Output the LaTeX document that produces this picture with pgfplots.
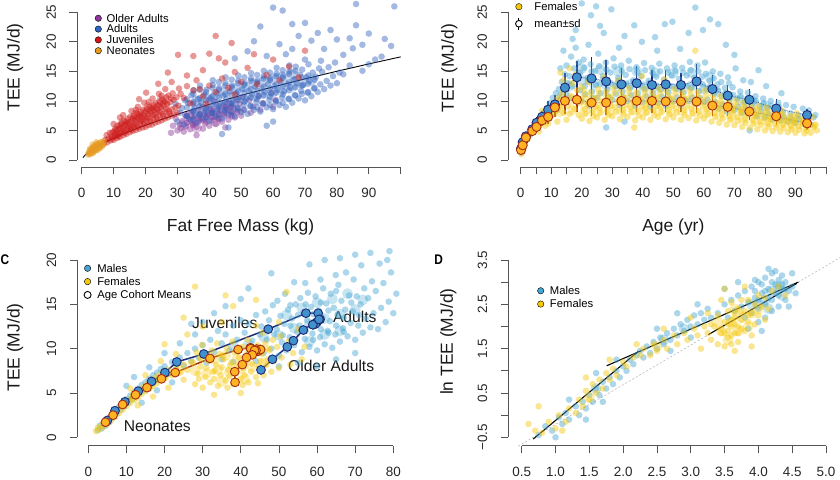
\documentclass[border=0pt]{standalone}
\usepackage{pgfplots}
\pgfplotsset{compat=1.18}
\usepackage{fontspec}
\setmainfont{Liberation Sans}
\definecolor{cPur}{RGB}{140,55,155}
\definecolor{cBlu}{RGB}{50,100,190}
\definecolor{cRed}{RGB}{205,25,25}
\definecolor{cOra}{RGB}{230,155,35}
\definecolor{mBlu}{RGB}{70,165,210}
\definecolor{fYel}{RGB}{245,200,10}
\definecolor{mFill}{RGB}{65,145,205}
\definecolor{fFill}{RGB}{255,180,35}
\definecolor{navy}{RGB}{30,40,115}
\definecolor{dred}{RGB}{165,45,20}
\definecolor{axgray}{RGB}{85,85,85}
\pgfplotsset{
 rax/.style={scale only axis, clip=false, anchor=south west,
  axis lines=left, axis line style={-, line width=0.8bp, draw=axgray},
  tick align=outside, major tick length=7.5bp,
  tick style={line width=0.8bp, draw=axgray},
  tick label style={font=\fontsize{13.5}{15}\selectfont, text=black!85},
  xticklabel style={anchor=north, yshift=-10.5bp},
  yticklabel style={xshift=-10bp, rotate=90, anchor=south},
  label style={font=\fontsize{17.5}{19}\selectfont, text=black!90},
  xlabel style={anchor=center}, ylabel style={anchor=center},
  legend image code/.code={\draw[##1] plot coordinates {(0bp,0bp)};},
  legend style={draw=none, fill=none, inner sep=0pt, outer sep=0pt, anchor=north west,
    font=\fontsize{11.3}{12}\selectfont,
    nodes={inner sep=0pt, text height=9.2bp, text depth=1.6bp}},
  legend cell align=left},
 cloud/.style={only marks, mark=*, mark size=3.3bp, mark options={draw=none, draw opacity=0, line width=0pt, fill=#1, fill opacity=0.45}, forget plot},
 core/.style={only marks, mark=*, mark size=5.5bp, mark options={draw=none, draw opacity=0, line width=0pt, fill=#1, fill opacity=0.3}, forget plot},
 ldot/.style={only marks, mark=*, mark size=3.2bp, mark options={draw=none, fill=#1}},
}
\begin{document}
\begin{tikzpicture}
%% ================= PANEL A =================
\begin{axis}[rax, at={(81.7bp,320bp)}, width=319bp, height=147.7bp,
  xmin=0, xmax=100, ymin=0, ymax=25,
  axis x line shift=7bp, axis y line shift=4.7bp,
  xtick={0,10,...,100}, xticklabels={0,10,20,30,40,50,60,70,80,90,{}},
  ytick={0,5,...,25}, yticklabels={0,5,10,15,20,25},
  xlabel={Fat Free Mass (kg)}, ylabel={TEE (MJ/d)},
  xlabel style={at={(axis description cs:0.498,-0.4536)}},
  ylabel style={at={(axis description cs:-0.2091,0.6263)}},
  legend style={at={(axis description cs:0.042,0.996)}, column sep=5.2bp},
]
\addlegendimage{ldot=cPur}\addlegendentry{Older Adults}
\addlegendimage{ldot=cBlu}\addlegendentry{Adults}
\addlegendimage{ldot=cRed}\addlegendentry{Juveniles}
\addlegendimage{ldot=cOra}\addlegendentry{Neonates}
% Older adults
\addplot[core=cPur] coordinates {(32,6.0)(35,6.6)(38,7.1)(41,7.6)(44,8.1)(47,8.6)(34,7.6)(40,8.2)(46,9.2)(36,5.5)(42,6.5)};
\addplot[cloud=cPur] coordinates {(28,4.6)(28.6,5.8)(30,5.0)(30.7,6.0)(29.5,7.0)(32,4.8)(32.7,5.7)(31.5,6.6)(32.4,7.6)(34,5.2)(34.7,6.1)(33.5,7.0)(34.4,8.0)(36,5.6)(36.7,6.5)(35.5,7.4)(36.4,8.4)(38,5.3)(38.7,6.2)(37.5,7.1)(38.4,8.0)(37.8,9.0)(40,5.8)(40.7,6.7)(39.5,7.6)(40.4,8.6)(42,6.1)(42.7,7.0)(41.5,7.9)(42.4,8.9)(41.8,9.9)(44,6.5)(44.7,7.4)(43.5,8.3)(44.4,9.3)(46,6.8)(46.7,7.7)(45.5,8.7)(46.4,9.7)(48,7.2)(48.7,8.1)(47.5,9.1)(48.4,10.1)(50,7.5)(50.7,8.5)(49.5,9.5)(50.4,10.6)(53,8.0)(53.7,9.0)(52.5,10.1)(56,8.5)(56.7,9.6)(55.5,10.8)(60,9.0)(60.7,10.2)(59.5,11.4)(36,4.2)(45,5.5)(40,10.2)(35,9.5)
(31,5.4)(33,6.3)(35,5.9)(37,6.8)(39,6.5)(41,7.3)(43,7.0)(45,7.9)(47,7.4)(49,8.4)(33,7.4)(37,7.7)(41,8.3)(45,9.0)(35,6.7)(39,7.2)(43,7.8)(47,8.2)};
% Adults
\addplot[core=cBlu] coordinates {(36,8.0)(36,10.0)(39,8.5)(39,10.5)(42,9.0)(42,11.0)(45,9.4)(45,11.5)(48,9.9)(48,12.0)(51,10.3)(51,12.4)(54,10.8)(54,12.9)(57,11.2)(57,13.3)(60,11.6)(60,13.7)(63,12.0)(63,14.1)(66,12.5)(66,14.5)(69,13.0)(72,13.5)};
\addplot[cloud=cBlu] coordinates {(30,6.5)(30.8,8.0)(29.4,9.5)
(32,6.0)(32.8,7.4)(31.4,8.8)(32.4,10.1)
(34,6.8)(34.8,8.2)(33.4,9.6)(34.4,11.0)
(36,6.3)(36.8,7.6)(35.4,8.9)(36.4,10.3)(35.1,11.8)
(38,7.0)(38.8,8.3)(37.4,9.7)(38.4,11.1)(37.1,12.6)
(40,6.6)(40.8,7.9)(39.4,9.2)(40.4,10.5)(39.1,11.9)(41.1,13.5)
(42,7.3)(42.8,8.6)(41.4,9.9)(42.4,11.3)(41.1,12.7)
(44,7.0)(44.8,8.3)(43.4,9.6)(44.4,10.9)(43.1,12.2)(45.1,14.0)
(46,7.7)(46.8,9.0)(45.4,10.3)(46.4,11.6)(45.1,13.0)
(48,7.4)(48.8,8.7)(47.4,10.0)(48.4,11.3)(47.1,12.6)(49.1,14.3)
(50,8.1)(50.8,9.4)(49.4,10.7)(50.4,12.0)(49.1,13.4)
(52,7.8)(52.8,9.1)(51.4,10.4)(52.4,11.7)(51.1,13.0)(53.1,14.7)
(54,8.5)(54.8,9.8)(53.4,11.1)(54.4,12.4)(53.1,13.8)
(56,8.2)(56.8,9.5)(55.4,10.8)(56.4,12.1)(55.1,13.4)(57.1,15.1)
(58,8.9)(58.8,10.2)(57.4,11.5)(58.4,12.8)(57.1,14.2)
(60,8.6)(60.8,9.9)(59.4,11.2)(60.4,12.5)(59.1,13.8)(61.1,15.6)
(62,9.3)(62.8,10.6)(61.4,11.9)(62.4,13.2)(61.1,14.6)
(64,9.0)(64.8,10.3)(63.4,11.6)(64.4,12.9)(63.1,14.2)(65.1,16.0)
(66,9.7)(66.8,11.0)(65.4,12.3)(66.4,13.6)(65.1,15.0)
(68,10.4)(68.8,11.7)(67.4,13.0)(68.4,14.4)(67.1,15.8)
(70,10.1)(70.8,11.4)(69.4,12.7)(70.4,14.0)(69.1,15.3)
(72,10.8)(72.8,12.1)(71.4,13.4)(72.4,14.8)(71.1,16.2)
(74,11.5)(74.8,12.8)(73.4,14.1)(74.4,15.5)
(76,12.0)(76.8,13.4)(75.4,14.9)
(78,12.6)(78.8,14.2)(77.4,15.7)
(80,13.0)(80.8,14.8)(79.4,16.5)
(82,17.8)(84,20.6)(86,22.8)(86,26.4)(88,19.5)(90,21.4)(92,17.0)(95,20.5)(97,19.3)(98,26.0)(60,25.8)(63,25.3)(66,23.0)(70,23.2)(72,20.2)(74,21.5)(66,18.8)(56,22.6)(62,19.6)(58,17.6)(52,18.4)(48,17.2)(46,5.5)(44,4.4)(60,6.5)(76,18.8)(78,22.0)(80,20.4)(84,16.0)(88,15.1)(90,16.2)(94,17.5)(54,20.1)(68,21.0)(75,16.8)(82,14.5)(85,18.9)(64,17.9)(70,17.0)(58,5.8)
(33,7.5)(33,8.9)(33,10.3)(35,7.0)(35,8.4)(35,9.8)(35,11.2)(37,7.8)(37,9.1)(37,10.5)(37,11.9)(39,7.3)(39,8.7)(39,10.1)(39,11.5)(41,8.0)(41,9.4)(41,10.8)(41,12.2)(43,7.7)(43,9.1)(43,10.5)(43,11.9)(43,13.2)(45,8.4)(45,9.8)(45,11.2)(45,12.6)(47,8.1)(47,9.5)(47,10.9)(47,12.3)(47,13.6)(49,8.8)(49,10.2)(49,11.6)(49,13.0)(51,8.5)(51,9.9)(51,11.3)(51,12.7)(51,14.0)(53,9.2)(53,10.6)(53,12.0)(53,13.4)(55,8.9)(55,10.3)(55,11.7)(55,13.1)(55,14.4)(57,9.6)(57,11.0)(57,12.4)(57,13.8)(59,9.3)(59,10.7)(59,12.1)(59,13.5)(59,14.8)(61,10.0)(61,11.4)(61,12.8)(61,14.2)(63,9.7)(63,11.1)(63,12.5)(63,13.9)(63,15.2)(65,10.4)(65,11.8)(65,13.2)(65,14.6)(67,10.9)(67,12.3)(67,13.7)(67,15.1)(69,11.2)(69,12.6)(69,14.0)(71,11.5)(71,12.9)(71,14.3)(73,12.2)(73,13.6)};
% Juveniles
\addplot[core=cRed] coordinates {(10,4.3)(12,5.0)(14,5.7)(16,6.4)(18,7.0)(20,7.6)(22,8.2)(24,8.8)(26,9.3)(13,6.3)(17,7.6)(21,8.9)(25,10.0)(11,4.8)(15,6.0)(19,7.2)(23,8.4)};
\addplot[cloud=cRed] coordinates {(7,2.8)(7.4,3.4)(8,3.0)(8.3,3.6)(7.8,4.2)(9,3.3)(9.4,3.9)(8.8,4.6)(10,3.4)(10.3,4.0)(9.7,4.7)(10.5,5.3)(11,3.7)(11.4,4.3)(10.8,5.0)(11.2,5.8)(12,3.9)(12.3,4.6)(11.7,5.3)(12.5,6.2)(13,4.2)(13.4,4.9)(12.8,5.6)(13.2,6.6)(14,4.4)(14.3,5.1)(13.7,5.9)(14.5,7.0)(15,4.7)(15.4,5.4)(14.8,6.2)(15.2,7.3)(15.6,8.3)(16,4.9)(16.3,5.6)(15.8,6.5)(16.5,7.5)(17,5.1)(17.4,5.9)(16.8,6.8)(17.2,7.9)(17.6,9.0)(18,5.3)(18.3,6.2)(17.7,7.0)(18.5,8.2)(19,5.5)(19.4,6.4)(18.8,7.3)(19.2,8.5)(19.6,9.7)(20,5.6)(20.3,6.6)(19.7,7.5)(20.5,8.7)(20.2,11.4)(21,5.9)(21.4,6.9)(20.8,7.8)(21.2,9.0)(22,6.0)(22.3,7.1)(21.7,8.1)(22.5,9.3)(22.2,10.4)(23,6.3)(23.4,7.3)(22.8,8.4)(23.2,9.6)(24,6.5)(24.3,7.6)(23.7,8.6)(24.5,9.9)(24.2,11.2)(25,6.7)(25.4,7.8)(24.8,8.9)(25.2,10.2)(26,7.0)(26.3,8.1)(25.7,9.3)(26.5,10.6)(26.2,12.0)(27,7.2)(27.4,8.3)(26.8,9.5)(27.2,10.9)(28,7.5)(28.3,8.6)(27.7,9.8)(28.5,11.3)(28.2,13.2)(29,7.7)(29.4,8.9)(28.8,10.2)(30,8.0)(30.3,9.2)(29.7,10.6)(30.5,12.1)(30.2,17.8)
(32,10.5)(33,12.5)(34,9.6)(35,11.8)(36,13.5)(38,10.8)(38,15.2)(40,12.6)(40,18.0)(42,11.5)(42,21.0)(44,13.8)(45,16.5)(46,12.2)(48,14.9)(48,11.1)(50,13.2)(52,15.6)(55,12.8)(58,14.4)(60,17.0)(62,13.5)(65,15.8)(68,14.0)(70,18.5)(35,17.6)(27,14.8)(24,12.9)(18,10.3)(12,7.2)(10,6.1)(31,11.2)(33,14.3)(37,12.0)(39,9.5)(43,17.2)(47,19.8)(54,17.9)
(9.5,3.6)(10.5,4.4)(11.5,4.0)(12.5,4.9)(13.5,4.6)(14.5,5.5)(15.5,5.1)(16.5,6.0)(17.5,5.6)(18.5,6.6)(19.5,6.1)(20.5,7.1)(21.5,6.5)(22.5,7.6)(23.5,7.0)(24.5,8.1)(25.5,7.4)(26.5,8.6)(27.5,7.9)(12,5.9)(14,6.5)(16,7.1)(18,7.7)(20,8.2)(22,8.8)(24,9.3)(26,9.9)(28,10.4)(13,7.6)(17,8.5)(21,9.8)(25,10.9)};
% Neonates
\addplot[core=cOra] coordinates {(3,1.4)(4,1.9)(5,2.3)(6,2.6)};
\addplot[cloud=cOra] coordinates {(2.0,0.9)(2.2,1.2)(2.4,1.0)(2.5,1.4)(2.7,1.1)(2.8,1.6)(3.0,1.3)(3.0,1.8)(3.2,1.5)(3.3,2.0)(3.5,1.2)(3.5,1.7)(3.7,2.2)(3.8,1.5)(4.0,1.9)(4.0,2.4)(4.2,1.6)(4.3,2.1)(4.5,2.6)(4.5,1.8)(4.7,2.3)(4.8,2.0)(5.0,2.7)(5.0,1.7)(5.2,2.4)(5.3,2.1)(5.5,2.8)(5.6,2.3)(5.8,2.0)(6.0,2.6)(6.0,3.0)(6.3,2.4)(6.5,2.9)(6.8,2.6)(7.0,3.2)(3.4,2.6)(4.6,3.0)(2.6,1.9)};
% fitted curve
\addplot[black, line width=0.9bp, forget plot] coordinates {(0.4,0.42)(1,0.78)(2,1.25)(3,1.64)(4,1.99)(6,2.61)(8,3.17)(10,3.69)(15,4.85)(20,5.89)(25,6.85)(30,7.75)(40,9.41)(50,10.94)(60,12.37)(70,13.73)(80,15.02)(90,16.26)(100,17.46)};
\end{axis}
%% ================= PANEL B =================
\begin{axis}[rax, at={(520.7bp,320bp)}, width=305.3bp, height=147.7bp,
  xmin=0, xmax=100, ymin=0, ymax=25,
  axis x line shift=7bp, axis y line shift=12.7bp,
  xtick={0,5,...,100}, xticklabels={0,,10,,20,,30,,40,,50,,60,,70,,80,,90,,},
  ytick={0,5,...,25}, yticklabels={0,5,10,15,20,25},
  xlabel={Age (yr)}, ylabel={TEE (MJ/d)},
  xlabel style={at={(axis description cs:0.5,-0.4536)}},
  ylabel style={at={(axis description cs:-0.2339,0.6229)}},
  legend style={at={(axis description cs:-0.0183,1.0745)}, column sep=11.8bp, row sep=5.2bp},
]
\addlegendimage{ldot=fYel}\addlegendentry{Females}
\addlegendimage{legend image code/.code={\draw[black, line width=0.9bp] (0bp,-6bp)--(0bp,6bp); \draw[black, fill=white, line width=0.9bp] (0bp,0bp) circle (3.3bp);}}\addlegendentry{mean±sd}
% Males
\addplot[core=mBlu] coordinates {(16,12.5)(20,13.5)(24,13.0)(28,12.8)(32,12.6)(36,12.8)(40,12.5)(44,12.4)(48,12.4)(52,12.3)(56,12.6)(60,12.0)(64,11.5)(68,10.8)(72,10.2)(76,9.8)(80,9.2)(20,15.5)(26,15.3)(32,15.0)(38,15.0)(44,14.8)(50,14.7)(56,14.8)(62,14.0)};
\addplot[cloud=mBlu] coordinates {(0.2,1.2)(0.3,1.8)(0.5,2.3)(0.7,1.5)(0.9,2.8)(1.2,3.0)(1.5,3.8)(2,3.5)(2.3,4.5)(3,4.2)(3.5,5.0)(4,4.8)(4.5,5.8)(5,5.5)(5.5,6.6)(6,6.2)(6.5,7.3)(7,6.8)(7.5,8.0)(8,7.5)(8.5,8.8)(9,8.2)(9.5,9.6)(10,9.0)(10.5,10.5)(9,7.0)(10,7.6)
(11,9.5)(11.5,11.3)(12,10.2)(12.5,12.0)(13,11.0)(13.5,13.2)(14,12.0)(14.5,14.5)(15,11.3)(15,16.0)(15.5,13.0)(16,14.2)(16.5,17.5)(17,12.5)(17.5,15.5)(18,13.8)(18,19.0)(19,16.5)(19.5,11.8)(14,18.5)(13,15.5)(12,8.5)(16,10.5)(17,20.5)(18,22.0)
(20,10.0)(21,12.5)(19.5,14.8)(20.6,17.0)(22.5,9.2)(23.4,11.6)(21.9,13.9)(22.9,16.2)(22.2,19.5)(25,10.5)(25.9,12.8)(24.4,15.1)(25.4,18.0)(24.7,26.0)(27.5,9.6)(28.4,11.9)(26.9,14.2)(27.9,16.5)(27.2,21.5)(30,10.2)(30.9,12.5)(29.4,14.8)(30.4,17.2)(29.7,25.5)(32.5,9.3)(33.4,11.6)(31.9,13.9)(32.9,16.0)(32.2,19.0)(35,10.0)(35.9,12.2)(34.4,14.4)(35.4,16.8)(37.5,9.1)(38.4,11.3)(36.9,13.5)(37.9,15.7)(37.2,22.8)(40,9.8)(40.9,12.0)(39.4,14.2)(40.4,16.4)(39.7,20.0)(42.5,9.0)(43.4,11.2)(41.9,13.4)(42.9,15.6)(45,9.7)(45.9,11.9)(44.4,14.1)(45.4,16.3)(44.7,18.5)(47.5,9.2)(48.4,11.4)(46.9,13.6)(47.9,15.5)(47.2,23.0)(50,9.9)(50.9,12.1)(49.4,14.3)(50.4,16.0)(49.7,23.4)(52.5,9.3)(53.4,11.5)(51.9,13.7)(52.9,15.6)(52.2,18.8)(55,10.0)(55.9,12.2)(54.4,14.3)(55.4,16.6)(57.5,9.5)(58.4,11.7)(56.9,13.9)(57.9,16.0)(57.2,25.8)(60,9.8)(60.9,12.0)(59.4,14.1)(60.4,16.5)(59.7,22.0)(62.5,9.2)(63.4,11.3)(61.9,13.4)(62.9,15.0)(65,8.7)(65.9,10.8)(64.4,12.8)(65.4,14.6)(64.7,23.0)(67.5,8.2)(68.4,10.2)(66.9,12.2)(67.9,14.0)(67.2,19.5)(70,8.5)(70.9,10.4)(69.4,12.3)(70.4,15.5)(72.5,8.0)(73.4,9.8)(71.9,11.6)(72.9,13.5)(75,7.8)(75.9,9.6)(74.4,11.4)(75.4,13.2)(77.5,7.4)(78.4,9.1)(76.9,10.8)(77.9,15.2)(80,7.2)(80.9,8.8)(79.4,10.4)(80.4,12.5)(82.5,6.9)(83.4,8.4)(81.9,10.0)(85,6.7)(85.9,8.2)(84.4,9.7)(85.4,11.3)(87.5,6.5)(88.4,7.9)(86.9,9.3)(90,6.3)(90.9,7.6)(89.4,9.0)(93,6.2)(93.9,7.4)(92.4,8.7)(95,6.0)(95.9,7.2)(94.4,8.4)
(20,26.5)(23,24.5)(26,22.7)(34,21.0)(44,20.8)(55,21.5)(62,23.8)(70,17.8)(28,5.5)(34,6.5)(75,5.0)
(21.2,11.1)(22,13.3)(20.8,15.6)(23.7,10.5)(24.6,12.7)(23.2,15.0)(26.2,11.3)(27,13.6)(25.7,15.9)(28.7,10.8)(29.5,13.0)(28.1,15.3)(31.2,11.2)(32,13.4)(30.7,15.8)(33.7,10.6)(34.6,12.9)(33.1,15.1)(36.2,11.0)(37,13.2)(35.6,15.4)(38.7,10.4)(39.6,12.6)(38.2,14.9)(41.2,10.8)(42,13.0)(40.7,15.2)(43.7,10.3)(44.6,12.5)(43.2,14.7)(46.2,10.7)(47,12.9)(45.7,15.0)(48.7,10.3)(49.6,12.5)(48.2,14.8)(51.2,10.6)(52,12.8)(50.7,15.1)(53.7,10.2)(54.6,12.5)(53.2,14.8)(56.2,10.6)(57,12.9)(55.7,15.2)(58.7,10.5)(59.6,12.8)(58.2,15.0)(61.2,10.2)(62,12.4)(60.7,14.6)(63.7,9.8)(64.6,11.8)(63.2,13.8)(66.2,9.4)(67,11.3)(65.7,13.2)(68.7,9.2)(69.6,11.0)(68.2,13.0)(71.2,9.0)(72,10.8)(73.7,8.9)(74.6,10.5)(76.2,8.5)(77,10.0)(78.7,8.2)(79.6,9.6)(81.2,7.8)(82,9.2)(83.7,7.6)(84.6,9.0)(86.2,7.3)(88.7,7.0)(91.2,6.9)(94,6.8)(96.5,7.6)};
% Females
\addplot[core=fYel] coordinates {(13,8.2)(13,9.8)(17,8.5)(17,10.3)(21,8.3)(21,10.1)(25,8.2)(25,10.0)(29,8.3)(29,10.1)(33,8.4)(33,10.2)(37,8.4)(37,10.2)(41,8.4)(41,10.2)(45,8.3)(45,10.1)(49,8.3)(49,10.1)(53,8.3)(53,10.1)(57,8.2)(57,10.0)(61,7.9)(61,9.6)(65,7.6)(65,9.3)(69,7.3)(69,8.9)(73,7.0)(73,8.5)(77,6.7)(77,8.1)(81,6.4)(81,7.7)(85,6.1)(85,7.3)(89,5.9)(89,7.0)(93,5.8)(93,6.8)};
\addplot[cloud=fYel] coordinates {(0.2,1.0)(0.3,1.6)(0.5,2.0)(0.8,2.6)(1,2.2)(1.3,3.2)(1.8,3.8)(2.2,3.5)(2.8,4.3)(3.2,4.8)(3.8,4.6)(4.2,5.4)(4.8,5.2)(5.2,6.0)(5.8,5.8)(6.2,6.6)(6.8,6.4)(7.2,7.3)(7.8,7.0)(8.2,7.8)(8.8,7.4)(9.2,8.5)(9.8,8.0)(10.2,9.2)(10.8,8.6)(6,4.8)(8,5.8)(9,6.2)(7,8.3)
(11,7.8)(11.5,9.5)(12,8.4)(12.5,10.5)(13,9.0)(13.5,11.3)(14,8.0)(14.5,10.0)(15,12.0)(15.5,9.2)(16,7.8)(16.5,10.8)(17,13.0)(17.5,8.6)(18,10.2)(18.5,11.8)(19,7.6)(19.5,9.6)(20,12.4)(14,13.5)(18,14.5)(16,15.5)(12,6.5)(15,6.8)(13,14.8)
(20,7.0)(21,8.6)(19.5,10.2)(20.6,11.8)(22.5,6.6)(23.4,8.2)(21.9,9.8)(22.9,11.4)(22.2,13.2)(25,7.2)(25.9,8.8)(24.4,10.4)(25.4,12.0)(27.5,6.8)(28.4,8.4)(26.9,10.0)(27.9,11.6)(27.2,14.0)(30,7.4)(30.9,9.0)(29.4,10.6)(30.4,12.2)(32.5,6.9)(33.4,8.5)(31.9,10.1)(32.9,11.7)(32.2,13.5)(35,7.3)(35.9,8.9)(34.4,10.5)(35.4,12.1)(37.5,6.7)(38.4,8.3)(36.9,9.9)(37.9,11.5)(37.2,5.5)(40,7.2)(40.9,8.8)(39.4,10.4)(40.4,12.0)(39.7,14.2)(42.5,6.8)(43.4,8.4)(41.9,10.0)(42.9,11.6)(45,7.3)(45.9,8.9)(44.4,10.5)(45.4,12.1)(47.5,6.9)(48.4,8.5)(46.9,10.1)(47.9,11.7)(47.2,13.6)(50,7.2)(50.9,8.8)(49.4,10.4)(50.4,12.0)(52.5,6.8)(53.4,8.4)(51.9,10.0)(52.9,11.6)(55,7.1)(55.9,8.7)(54.4,10.3)(55.4,11.9)(57.5,6.7)(58.4,8.3)(56.9,9.9)(57.9,11.5)(57.2,18.5)(60,7.0)(60.9,8.6)(59.4,10.2)(60.4,11.8)(62.5,6.5)(63.4,8.0)(61.9,9.5)(62.9,11.0)(65,6.3)(65.9,7.8)(64.4,9.3)(65.4,10.8)(67.5,6.0)(68.4,7.5)(66.9,9.0)(67.9,10.5)(70,5.9)(70.9,7.3)(69.4,8.7)(70.4,10.1)(72.5,5.6)(73.4,7.0)(71.9,8.4)(72.9,9.8)(75,5.4)(75.9,6.8)(74.4,8.2)(75.4,9.6)(77.5,5.2)(78.4,6.5)(76.9,7.8)(77.9,9.1)(80,5.0)(80.9,6.3)(79.4,7.6)(80.4,8.9)(82.5,4.9)(83.4,6.1)(81.9,7.3)(82.9,8.6)(85,4.8)(85.9,6.0)(84.4,7.2)(85.4,8.4)(87.5,4.7)(88.4,5.8)(86.9,6.9)(90,4.6)(90.9,5.7)(89.4,6.8)(90.4,7.9)(93,4.5)(93.9,5.6)(92.4,6.7)(95,4.6)(95.9,5.5)(94.4,6.4)(95.4,7.3)(97,5.0)(96.6,6.0)
(21.2,7.8)(22,9.4)(20.8,11.0)(23.7,7.4)(24.6,9.0)(23.2,10.6)(26.2,8.0)(27,9.6)(25.7,11.2)(28.7,7.6)(29.5,9.2)(28.1,10.8)(31.2,8.2)(32,9.8)(30.7,11.4)(33.7,7.7)(34.6,9.3)(33.1,10.9)(36.2,8.1)(37,9.7)(35.6,11.3)(38.7,7.5)(39.6,9.1)(38.2,10.7)(41.2,8.0)(42,9.6)(40.7,11.2)(43.7,7.6)(44.6,9.2)(43.2,10.8)(46.2,8.1)(47,9.7)(45.7,11.3)(48.7,7.7)(49.6,9.3)(48.2,10.9)(51.2,8.0)(52,9.6)(50.7,11.2)(53.7,7.6)(54.6,9.2)(53.2,10.8)(56.2,7.9)(57,9.5)(55.7,11.1)(58.7,7.5)(59.6,9.1)(58.2,10.7)(61.2,7.8)(62,9.4)(60.7,10.9)(63.7,7.3)(64.6,8.7)(63.2,10.2)(66.2,7.0)(67,8.5)(65.7,9.9)(68.7,6.8)(69.6,8.2)(68.2,9.7)(71.2,6.6)(72,8.0)(70.7,9.3)(73.7,6.3)(74.6,7.7)(73.2,9.0)(76.2,6.1)(77,7.4)(75.7,8.8)(78.7,5.9)(79.6,7.1)(78.2,8.4)(81.2,5.6)(82,6.8)(80.7,8.1)(83.7,5.5)(84.6,6.7)(83.2,7.9)(86.2,5.4)(87,6.5)(85.7,7.7)(88.7,5.2)(89.6,6.3)(88.2,7.4)(91.2,5.1)(92,6.2)(90.7,7.2)(93.7,5.0)(94.6,6.1)(96.2,5.8)};
% Male means +- sd
\addplot[forget plot, navy, densely dotted, line width=0.8bp, mark=*, mark size=4.6bp,
  mark options={solid, fill=mFill, draw=navy, line width=0.9bp},
  error bars/.cd, y dir=both, y explicit, error mark=none,
  error bar style={solid, line width=1.4bp, navy}]
  table[x=a, y=m, y error=s] {
a m s
0.1 1.9 0.4
0.65 3.0 0.5
1.7 4.0 0.6
3.8 5.2 0.8
5.2 6.3 0.9
7.0 7.3 1.0
9.0 8.5 1.5
11.2 9.4 1.6
14.5 12.25 2.5
18.4 14.0 2.7
23.2 13.8 3.6
28.0 13.3 3.7
33.0 12.8 2.8
38.0 13.0 2.9
43.0 12.7 2.5
47.5 12.8 2.5
52.5 12.7 2.1
57.6 13.3 3.0
62.8 12.0 2.4
67.8 10.9 1.8
74.9 10.2 1.8
83.7 8.7 1.7
93.8 7.6 1.1
};
% Female means +- sd
\addplot[forget plot, dred, densely dotted, line width=0.8bp, mark=*, mark size=4.6bp,
  mark options={solid, fill=fFill, draw=dred, line width=0.9bp},
  error bars/.cd, y dir=both, y explicit, error mark=none,
  error bar style={solid, line width=1.4bp, dred}]
  table[x=a, y=m, y error=s] {
a m s
0.1 1.7 0.3
0.65 2.5 0.4
1.7 3.8 0.5
3.8 4.9 0.6
5.2 5.6 0.7
7.0 6.7 0.9
9.0 7.3 1.2
11.2 8.9 1.7
14.5 10.0 2.2
18.4 10.2 2.0
23.2 9.7 2.3
28.0 9.7 2.0
33.0 10.0 2.0
38.0 10.0 1.8
43.0 10.0 2.0
47.5 9.9 1.8
52.5 9.9 1.8
57.6 9.9 1.9
62.8 9.2 1.7
67.8 9.0 1.6
74.9 8.2 1.5
83.7 7.4 1.4
93.8 6.2 1.2
};
\end{axis}
%% ================= PANEL C =================
\begin{axis}[rax, at={(88.3bp,42.7bp)}, width=305bp, height=177.3bp,
  xmin=0, xmax=80, ymin=0, ymax=20,
  axis x line shift=8.2bp, axis y line shift=11bp,
  xtick={0,10,...,80}, xticklabels={0,10,20,30,40,50,60,70,80},
  ytick={0,5,...,20}, yticklabels={0,5,10,15,20},
  ylabel={TEE (MJ/d)},
  ylabel style={at={(axis description cs:-0.2403,0.5065)}},
  legend style={at={(axis description cs:-0.0138,0.9836)}, column sep=6.2bp, row sep=2.5bp},
]
\addlegendimage{ldot=mBlu}\addlegendentry{Males}
\addlegendimage{ldot=fYel}\addlegendentry{Females}
\addlegendimage{only marks, mark=o, mark size=3.5bp, mark options={black, line width=0.9bp}}\addlegendentry{Age Cohort Means}
\addplot[core=mBlu] coordinates {(50,11.5)(54,12.3)(58,12.8)(62,13.4)(66,13.9)(70,14.4)(52,13.8)(56,14.6)(60,15.2)(64,15.6)(68,16.2)(58,10.8)(62,11.6)(66,12.0)(72,15.5)(46,11.3)(42,10.5)(38,10.3)};
\addplot[cloud=mBlu] coordinates {(2.5,0.8)(3,1.3)(3.5,1.0)(4,1.6)(4.5,1.3)(5,2.1)(5.5,1.7)(6,2.5)(6.5,2.2)(7,3.0)(7.5,2.7)(8,3.4)(8.5,3.1)(9,3.9)(9.5,3.5)(10,4.3)(10.5,3.9)(11,4.7)(11.5,4.3)(12,5.1)(12.5,4.6)(13,5.5)(13.5,5.0)(14,5.9)(14.5,5.3)(15,6.2)(15.5,5.6)(16,6.6)(16.5,6.0)(17,7.0)(17.5,6.3)(18,7.3)(18.5,6.6)(19,7.7)(19.5,6.9)(20,8.0)(21,7.3)(22,8.5)(23,7.7)(24,9.0)(25,8.1)(26,9.5)(27,8.6)(28,10.0)(29,9.0)(30,10.4)(12,6.8)(16,7.9)(20,9.5)(24,10.6)(28,11.6)(10,5.8)(14,3.9)(18,5.3)(22,6.2)
(31,8.4)(32,11.0)(33,9.6)(34,12.0)(35,8.8)(35,10.6)(36,11.6)(37,9.8)(38,12.6)(38,8.5)(39,11.0)(40,10.0)(40,13.2)(41,11.8)(42,9.4)(42,12.8)(43,10.9)(44,13.8)(44,8.6)(45,11.6)(33,14.0)(36,14.8)(40,15.6)(42,16.8)(30,13.0)(27,12.8)
(46,9.5)(46.8,11.0)(45.4,12.5)(46.4,14.2)(48,10.0)(48.8,11.6)(47.4,13.2)(48.4,14.9)(50,9.2)(50.8,10.7)(49.4,12.2)(50.4,13.7)(49.6,15.4)(52,9.8)(52.8,11.3)(51.4,12.8)(52.4,14.4)(51.6,16.2)(54,10.4)(54.8,11.9)(53.4,13.4)(54.4,15.0)(56,9.6)(56.8,11.1)(55.4,12.6)(56.4,14.1)(55.6,15.7)(56.9,17.4)(58,10.2)(58.8,11.7)(57.4,13.2)(58.4,14.7)(57.6,16.3)(60,9.8)(60.8,11.3)(59.4,12.8)(60.4,14.3)(59.6,15.9)(60.9,17.8)(62,10.5)(62.8,12.0)(61.4,13.5)(62.4,15.1)(61.6,16.8)(64,10.1)(64.8,11.6)(63.4,13.1)(64.4,14.6)(63.6,16.2)(64.9,18.3)(66,10.8)(66.8,12.3)(65.4,13.8)(66.4,15.4)(65.6,17.2)(68,11.4)(68.8,12.9)(67.4,14.4)(68.4,16.0)(67.6,18.6)(70,11.0)(70.8,12.6)(69.4,14.2)(70.4,15.9)(69.6,17.8)(72,11.8)(72.8,13.4)(71.4,15.0)(72.4,16.8)(71.6,19.4)(74,12.4)(74.8,14.0)(73.4,15.7)(74.4,17.6)(76,12.2)(76.8,14.6)(75.4,16.5)(76.4,19.6)(78,13.0)(78.8,15.3)(77.4,17.4)(78.4,20.0)(80,14.0)(80.8,16.2)(79.4,18.6)
(48,18.5)(54,17.5)(58,19.5)(62,20.0)(66,20.2)(70,20.6)(74,20.8)(79,21.0)(50,8.0)(55,8.4)(60,8.0)(65,8.8)(70,9.5)
(51,11.5)(53,12.6)(55,13.8)(57,12.0)(59,13.9)(61,12.2)(63,14.3)(65,12.6)(67,13.5)(69,15.2)(71,13.8)(53,14.9)(57,15.0)(61,15.2)(65,16.5)(59,11.0)(63,11.8)(67,11.9)};
\addplot[core=fYel] coordinates {(28,7.5)(31,7.2)(34,7.6)(37,7.3)(40,7.7)(43,7.9)(46,8.4)(30,9.0)(33,8.8)(36,9.2)(39,8.8)(42,9.3)(45,9.8)(35,6.3)(41,6.6)(24,7.6)(20,6.9)(16,5.8)(12,4.6)};
\addplot[cloud=fYel] coordinates {(2,0.7)(2.5,1.1)(3,0.9)(3.5,1.4)(4,1.2)(4.5,1.8)(5,1.5)(5.5,2.2)(6,1.9)(6.5,2.6)(7,2.3)(7.5,3.0)(8,2.7)(8.5,3.5)(9,3.1)(9.5,3.9)(10,3.5)(10.5,4.2)(11,3.9)(11.5,4.6)(12,4.2)(12.5,5.0)(13,4.5)(13.5,5.3)(14,4.9)(14.5,5.7)(15,5.2)(15.5,6.0)(16,5.5)(16.5,6.4)(17,5.8)(17.5,6.7)(18,6.1)(18.5,7.0)(19,6.4)(19.5,7.3)(20,6.7)(21,7.6)(22,7.0)(23,7.9)(24,7.3)(25,8.2)(26,7.6)(27,8.5)(11,5.5)(15,7.0)(19,8.6)(23,9.4)(13,3.6)(17,4.6)(21,5.6)(25,6.5)
(28,6.0)(28.7,7.2)(27.5,8.4)(28.4,9.6)(30,5.6)(30.7,6.8)(29.5,8.0)(30.4,9.2)(29.8,10.4)(32,6.2)(32.7,7.4)(31.5,8.6)(32.4,9.8)(34,5.8)(34.7,7.0)(33.5,8.2)(34.4,9.4)(33.8,10.6)(36,6.4)(36.7,7.6)(35.5,8.8)(36.4,10.0)(38,6.0)(38.7,7.2)(37.5,8.4)(38.4,9.6)(37.8,10.8)(40,6.6)(40.7,7.8)(39.5,9.0)(40.4,10.2)(42,6.2)(42.7,7.4)(41.5,8.6)(42.4,9.8)(41.8,11.0)(44,6.8)(44.7,8.0)(43.5,9.2)(44.4,10.4)(46,7.0)(46.7,8.2)(45.5,9.4)(46.4,10.6)(45.8,11.8)(48,7.4)(48.7,8.6)(47.5,9.8)(48.4,11.0)(50,7.8)(50.7,9.0)(49.5,10.2)(50.4,11.4)(53,8.2)(53.7,9.5)(52.5,10.8)(56,8.8)(56.7,10.2)
(29,6.6)(31,7.8)(33,6.6)(35,7.9)(37,6.9)(39,8.1)(41,7.0)(43,8.3)(45,7.6)(47,8.8)(29.2,8.9)(31.2,9.3)(33.2,7.5)(35.2,9.2)(37.2,8.1)(39.2,9.9)(41.2,8.2)(43.2,9.6)(45.2,8.6)(47.2,10.0)(36.5,5.6)(40.5,5.9)(44.5,6.1)
(30,12.5)(35,13.0)(38,14.8)(44,12.6)(26,11.6)(40,5.0)(33,4.8)(50,13.0)(55,12.2)(20,10.5)(25,13.5)(36,16.0)(44,15.5)(28,17.0)(52,16.4)};
% cohort means
\addplot[forget plot, navy, line width=1.5bp, mark=*, mark size=4.4bp,
  mark options={fill=mFill, draw=navy, line width=0.9bp}] coordinates {(5.0,1.9)(7.0,3.0)(9.6,4.0)(13.1,5.2)(16.6,6.3)(20.1,7.3)(23.2,8.5)(30.3,9.4)(47.2,12.2)(57.1,14.0)(60.3,14.0)(60.8,13.3)(59.3,12.8)(60.0,13.0)(59.0,12.7)(59.6,12.8)(58.9,12.7)(60.5,13.3)(56.4,12.1)(53.8,10.9)(52.2,10.2)(48.3,8.8)(45.3,7.6)};
\addplot[forget plot, dred, line width=1.5bp, mark=*, mark size=4.4bp,
  mark options={fill=fFill, draw=dred, line width=0.9bp}] coordinates {(4.5,1.7)(6.5,2.5)(9.0,3.7)(12.4,4.8)(15.4,5.6)(19.2,6.6)(22.8,7.3)(31.9,8.9)(39.3,9.9)(42.5,10.1)(43.6,9.7)(44.5,9.7)(45.0,9.9)(44.2,9.95)(42.6,10.0)(45.2,9.9)(44.0,9.8)(43.6,9.8)(43.0,9.3)(41.5,9.0)(40.4,8.2)(38.4,7.4)(38.5,6.2)};
\node[font=\fontsize{15.7}{17}\selectfont, text=black!90] at (axis cs:35.8,12.9) {Juveniles};
\node[font=\fontsize{15.7}{17}\selectfont, text=black!90] at (axis cs:69.9,13.6) {Adults};
\node[font=\fontsize{15.7}{17}\selectfont, text=black!90] at (axis cs:63.7,8.1) {Older Adults};
\node[font=\fontsize{15.7}{17}\selectfont, text=black!90] at (axis cs:18.1,1.2) {Neonates};
\end{axis}
%% ================= PANEL D =================
\begin{axis}[rax, at={(521.7bp,42.7bp)}, width=304.3bp, height=177.3bp,
  xmin=0.5, xmax=5, ymin=-0.5, ymax=3.5,
  axis x line shift=8.5bp, axis y line shift=13.4bp,
  xtick={0.5,1,1.5,2,2.5,3,3.5,4,4.5,5}, xticklabels={0.5,1.0,1.5,2.0,2.5,3.0,3.5,4.0,4.5,5.0},
  ytick={-0.5,0,0.5,1,1.5,2,2.5,3,3.5}, yticklabels={−0.5,,0.5,,1.5,,2.5,,3.5},
  ylabel={ln TEE (MJ/d)},
  ylabel style={at={(axis description cs:-0.2412,0.5392)}},
  legend style={at={(axis description cs:0.0519,0.857)}, column sep=6.1bp, row sep=2.5bp},
]
\addlegendimage{ldot=mBlu}\addlegendentry{Males}
\addlegendimage{ldot=fYel}\addlegendentry{Females}
\addplot[forget plot, gray!55, line width=0.6bp, dash pattern=on 2bp off 2bp] coordinates {(0.45,-0.70)(5.21,3.555)};
\addplot[core=mBlu] coordinates {(4.1,2.6)(4.2,2.8)(4.3,2.9)(4.0,2.5)(4.15,2.4)(4.35,2.7)(3.9,2.5)(2.6,1.7)(2.9,1.95)(1.6,0.6)};
\addplot[cloud=mBlu] coordinates {(0.75,-0.45)(0.85,-0.25)(0.95,-0.35)(1.05,-0.05)(1.1,-0.2)(1.15,0.05)(1.2,-0.1)(1.3,0.2)(1.35,0.0)(1.4,0.3)(1.45,0.15)(1.5,0.45)(1.55,0.3)(1.6,0.6)(1.65,0.45)(1.7,0.75)(1.75,0.6)(1.8,0.85)(1.85,0.7)(1.9,1.0)(1.95,0.85)(2.0,1.1)(2.05,1.0)(2.1,1.25)(2.15,1.15)(2.2,1.35)(1.0,-0.5)(1.2,0.35)(1.45,-0.1)(1.7,0.3)(1.9,1.25)(1.6,0.95)
(2.25,1.45)(2.3,1.3)(2.35,1.55)(2.4,1.4)(2.45,1.65)(2.5,1.5)(2.55,1.75)(2.6,1.6)(2.65,1.85)(2.7,1.7)(2.75,1.95)(2.8,1.8)(2.85,2.05)(2.9,1.9)(2.95,2.15)(3.0,2.0)(3.05,2.25)(3.1,2.05)(3.15,2.3)(3.2,2.15)(3.25,2.4)(3.3,2.2)(2.5,1.95)(2.8,2.3)(3.1,2.5)(2.7,1.45)(3.0,1.75)
(3.4,2.3)(3.5,2.5)(3.55,2.2)(3.6,2.6)(3.65,2.35)(3.7,2.7)(3.75,2.45)(3.8,2.8)(3.8,2.2)(3.85,2.55)(3.9,2.9)(3.9,2.3)(3.95,2.65)(4.0,3.0)(4.0,2.4)(4.0,2.1)(4.05,2.75)(4.1,3.1)(4.1,2.5)(4.1,2.2)(4.15,2.85)(4.2,3.2)(4.2,2.6)(4.2,2.35)(4.25,2.95)(4.3,3.05)(4.3,2.7)(4.3,2.45)(4.35,2.85)(4.4,3.0)(4.4,2.6)(4.45,2.8)(4.5,2.9)(4.5,3.2)(4.55,2.75)(4.15,3.3)(4.25,3.25)(3.95,3.05)(3.7,3.0)(3.5,2.85)(4.35,3.15)(4.05,1.9)(3.85,1.95)(4.45,2.45)
(4.05,2.95)(4.15,2.65)(4.25,2.75)(4.35,2.95)(4.1,2.8)(4.2,3.0)(4.3,2.9)(3.95,2.8)(4.0,2.6)(4.4,2.85)};
\addplot[core=fYel] coordinates {(3.45,1.9)(3.6,2.1)(3.75,2.2)(3.9,2.3)(3.55,1.7)(3.7,1.9)(3.85,2.0)(4.0,2.4)(3.4,2.1)(3.65,2.4)(2.5,1.55)(1.5,0.4)};
\addplot[cloud=fYel] coordinates {(0.7,-0.35)(0.8,-0.4)(0.9,-0.15)(1.0,-0.3)(1.05,0.0)(1.15,-0.15)(1.2,0.15)(1.3,0.05)(1.35,0.35)(1.4,0.2)(1.45,0.55)(1.5,0.35)(1.55,0.7)(1.6,0.5)(1.65,0.8)(1.7,0.6)(1.75,0.95)(1.8,0.8)(1.85,1.05)(1.9,0.9)(2.0,1.2)(2.05,1.1)(2.15,1.3)(0.6,-0.2)(0.75,0.2)(1.1,-0.35)(1.45,0.85)(1.8,1.25)
(2.25,1.35)(2.3,1.5)(2.4,1.35)(2.45,1.6)(2.5,1.45)(2.6,1.7)(2.65,1.5)(2.75,1.8)(2.8,1.6)(2.9,1.85)(2.95,1.7)(3.05,1.95)(3.1,1.8)(3.2,2.0)(3.25,1.85)(2.2,1.6)(2.6,1.95)(3.0,2.2)
(3.3,1.7)(3.35,2.0)(3.4,1.6)(3.4,2.25)(3.45,1.85)(3.5,2.1)(3.5,1.55)(3.55,2.35)(3.55,1.75)(3.6,2.0)(3.6,2.55)(3.6,1.6)(3.65,2.2)(3.65,1.85)(3.7,2.4)(3.7,2.0)(3.7,1.65)(3.75,2.15)(3.75,2.6)(3.8,1.9)(3.8,2.35)(3.85,2.1)(3.85,2.6)(3.9,1.8)(3.9,2.3)(3.95,2.5)(3.95,2.05)(4.0,2.25)(4.0,2.7)(4.05,2.45)(4.1,2.65)(4.1,2.15)(4.15,2.4)(4.2,2.8)(3.45,2.6)(3.25,2.3)(3.15,1.5)(3.5,2.85)(3.8,2.9)(3.3,2.05)(3.65,1.45)(3.9,1.55)(4.3,2.9)(4.4,2.7)
(3.45,1.95)(3.55,2.05)(3.6,1.8)(3.65,2.05)(3.7,1.85)(3.75,1.95)(3.5,1.85)(3.55,1.9)(3.65,2.3)(3.75,2.3)(3.85,2.25)(3.6,2.15)};
\addplot[forget plot, black, line width=1.1bp] coordinates {(0.67,-0.54)(2.224,1.438)};
\addplot[forget plot, black, line width=1.1bp] coordinates {(1.757,1.114)(4.59,3.0)};
\addplot[forget plot, black, line width=1.1bp] coordinates {(3.26,1.816)(4.566,2.97)};
\end{axis}
\node[font=\bfseries\fontsize{14}{14}\selectfont, xscale=0.85] at (5bp,220bp) {C};
\node[font=\bfseries\fontsize{14}{14}\selectfont, xscale=0.85] at (438.7bp,220bp) {D};
\pgfresetboundingbox
\path[use as bounding box] (0bp,0bp) rectangle (840bp,480bp);
\end{tikzpicture}
\end{document}
